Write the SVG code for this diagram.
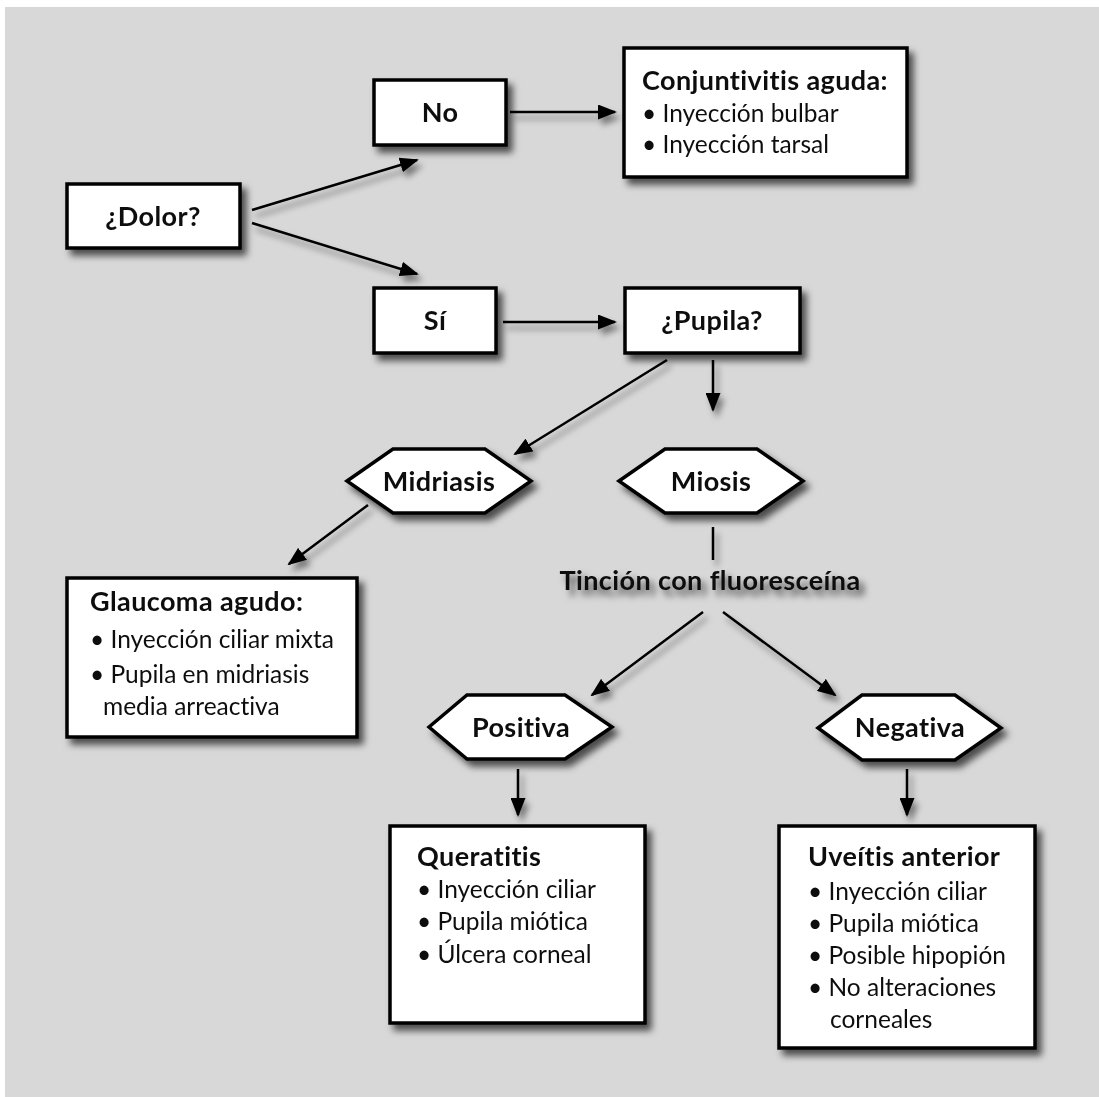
<svg xmlns="http://www.w3.org/2000/svg" width="1099" height="1097" viewBox="0 0 1099 1097">
<defs>
<style>
.bg{fill:#d8d8d8}
.box{fill:#fff;stroke:#000;stroke-width:3.5}
.t{font-family:Lato,"Open Sans","Liberation Sans",sans-serif;fill:#111;font-variant-ligatures:none}
.b{font-weight:bold;font-size:27px;letter-spacing:0.4px}
.r{font-size:24.5px}
.c{text-anchor:middle}
.ln{stroke:#000;stroke-width:2.5;fill:none}
.arr{marker-end:url(#ah)}
</style>
<filter id="sh" filterUnits="userSpaceOnUse" x="0" y="0" width="1099" height="1097">
<feDropShadow dx="5" dy="6" stdDeviation="3.5" flood-color="#000" flood-opacity="0.65"/>
</filter>
<filter id="shl" filterUnits="userSpaceOnUse" x="0" y="0" width="1099" height="1097">
<feDropShadow dx="4" dy="6" stdDeviation="3" flood-color="#000" flood-opacity="0.45"/>
</filter>
<marker id="ah" viewBox="0 0 19 15" refX="17" refY="7.5" markerWidth="19" markerHeight="15" markerUnits="userSpaceOnUse" orient="auto">
<path d="M0,0 L19,7.5 L0,15 z" fill="#000"/>
</marker>
</defs>
<rect class="bg" x="5" y="7" width="1094" height="1090"/>

<g id="connectors" filter="url(#shl)">
<line class="ln arr" x1="252" y1="210" x2="417" y2="160"/>
<line class="ln arr" x1="252" y1="223" x2="417" y2="274"/>
<line class="ln arr" x1="510" y1="112" x2="615" y2="112"/>
<line class="ln arr" x1="503" y1="322" x2="615" y2="322"/>
<line class="ln arr" x1="667" y1="360" x2="515" y2="454"/>
<line class="ln arr" x1="713" y1="360" x2="713" y2="410"/>
<line class="ln arr" x1="368" y1="505" x2="289" y2="564"/>
<line class="ln" x1="713" y1="527" x2="713" y2="560"/>
<line class="ln arr" x1="703" y1="612" x2="592" y2="695"/>
<line class="ln arr" x1="723" y1="612" x2="835" y2="695"/>
<line class="ln arr" x1="518" y1="769" x2="518" y2="815"/>
<line class="ln arr" x1="907" y1="769" x2="907" y2="815"/>
</g>

<g id="dolor" filter="url(#sh)">
<rect class="box" x="67" y="184" width="173" height="64"/>
<text class="t b c" x="153" y="225.5">¿Dolor?</text>
</g>

<g id="no" filter="url(#sh)">
<rect class="box" x="374" y="80" width="132" height="65"/>
<text class="t b c" x="440" y="122">No</text>
</g>

<g id="conjuntivitis" filter="url(#sh)">
<rect class="box" x="624" y="48" width="283" height="129"/>
<text class="t b" x="642" y="90">Conjuntivitis aguda:</text>
<text class="t r" x="642" y="122">• Inyección bulbar</text>
<text class="t r" x="642" y="153">• Inyección tarsal</text>
</g>

<g id="si" filter="url(#sh)">
<rect class="box" x="374" y="288" width="122" height="65"/>
<text class="t b c" x="435" y="330">Sí</text>
</g>

<g id="pupila" filter="url(#sh)">
<rect class="box" x="625" y="288" width="175" height="65"/>
<text class="t b c" x="712" y="330">¿Pupila?</text>
</g>

<g id="midriasis" filter="url(#sh)">
<polygon class="box" points="347,481 393,449 485,449 531,481 485,513 393,513"/>
<text class="t b c" x="439" y="490.5">Midriasis</text>
</g>

<g id="miosis" filter="url(#sh)">
<polygon class="box" points="619,481 665,449 757,449 803,481 757,513 665,513"/>
<text class="t b c" x="711" y="490.5">Miosis</text>
</g>

<g id="glaucoma" filter="url(#sh)">
<rect class="box" x="67" y="578" width="290" height="159"/>
<text class="t b" x="90" y="611">Glaucoma agudo:</text>
<text class="t r" x="90" y="648">• Inyección ciliar mixta</text>
<text class="t r" x="90" y="683">• Pupila en midriasis</text>
<text class="t r" x="103" y="715">media arreactiva</text>
</g>

<g id="tincion" filter="url(#sh)">
<text class="t b c" x="710" y="590">Tinción con fluoresceína</text>
</g>

<g id="positiva" filter="url(#sh)">
<polygon class="box" points="429,727 467,695 565,695 612,727 565,759 467,759"/>
<text class="t b c" x="521" y="736.5">Positiva</text>
</g>

<g id="negativa" filter="url(#sh)">
<polygon class="box" points="818,728 862,695 955,695 1001,728 955,760 862,760"/>
<text class="t b c" x="910" y="737">Negativa</text>
</g>

<g id="queratitis" filter="url(#sh)">
<rect class="box" x="390" y="826" width="255" height="197"/>
<text class="t b" x="417" y="866">Queratitis</text>
<text class="t r" x="417" y="898">• Inyección ciliar</text>
<text class="t r" x="417" y="930">• Pupila miótica</text>
<text class="t r" x="417" y="963">• Úlcera corneal</text>
</g>

<g id="uveitis" filter="url(#sh)">
<rect class="box" x="779" y="826" width="256" height="222"/>
<text class="t b" x="808" y="866">Uveítis anterior</text>
<text class="t r" x="808" y="900">• Inyección ciliar</text>
<text class="t r" x="808" y="932">• Pupila miótica</text>
<text class="t r" x="808" y="964">• Posible hipopión</text>
<text class="t r" x="808" y="996">• No alteraciones</text>
<text class="t r" x="830" y="1028">corneales</text>
</g>
</svg>
